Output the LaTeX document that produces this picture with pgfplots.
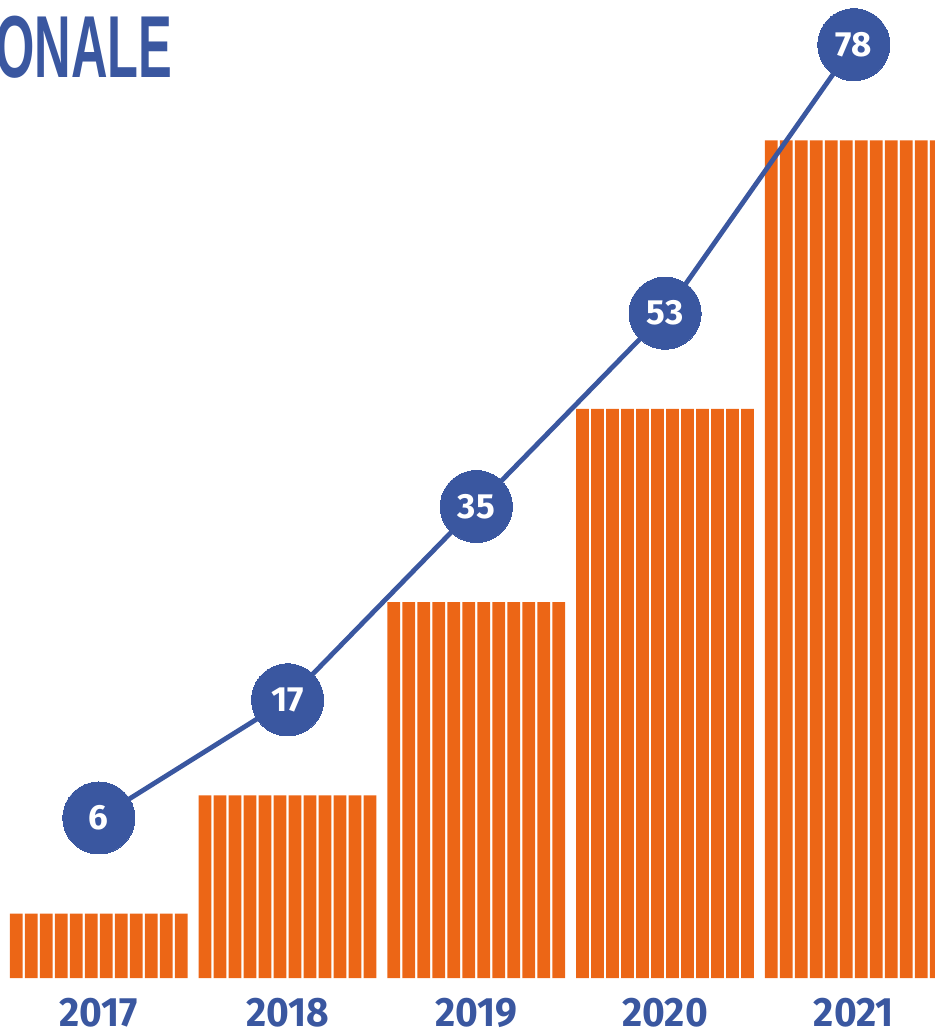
\documentclass[border=0pt]{standalone}
\usepackage{pgfplots}
\pgfplotsset{compat=1.18}
\usepackage{pgfplotstable}
\usepackage{graphicx}
\usepackage{fontspec}
\setmainfont{Fira Sans}
\newfontfamily\titlefont{Liberation Sans}
\newfontfamily\numfont{Fira Sans}
\definecolor{blueC}{RGB}{58,87,160}
\definecolor{orangeC}{RGB}{236,102,22}
\pgfplotstableread{
x v
0 6
1 17
2 35
3 53
4 78
}\data
\newcommand{\yr}[1]{\scalebox{0.95}[1]{#1}}
\begin{document}
\begin{tikzpicture}
\begin{axis}[
  scale only axis,
  width=467.5pt, height=517pt,
  xmin=-0.5237, xmax=4.4299,
  ymin=-5.214, ymax=91.06,
  clip=false,
  /pgf/number format/assume math mode=true,
  axis line style={draw=none},
  tick style={draw=none},
  ytick=\empty,
  xtick={0,1,2,3,4},
  xticklabels={\yr{2017},\yr{2018},\yr{2019},\yr{2020},\yr{2021}},
  xticklabel style={anchor=base, inner sep=0pt, yshift=3.6pt, text=blueC, font=\numfont\bfseries\fontsize{20.5}{20.5}\selectfont},
]
\pgfplotsinvokeforeach{0,...,11}{
  \addplot[ybar, bar width=6.35pt, bar shift={#1*7.5pt-41.25pt}, fill=orangeC, draw=none] table[x=x,y=v]{\data};
}
\addplot[blueC, line width=2.4pt, mark=*, mark size=18pt,
  mark options={fill=blueC, draw=blueC, line width=0pt},
  nodes near coords, point meta=explicit, nodes near coords align=center,
  every node near coord/.append style={text=white, font=\numfont\bfseries\fontsize{17.5}{17.5}\selectfont}]
  table[x=x, y expr=\thisrow{v}+8.9, meta=v]{\data};
\node[anchor=base west, inner sep=0pt, text=blueC, font=\titlefont\bfseries\fontsize{44}{44}\selectfont]
  at (rel axis cs:-0.0053,0.9246) {\scalebox{0.575}[1]{ONALE}};
\coordinate (SW) at (rel axis cs:0,0);
\coordinate (NE) at (rel axis cs:1,1);
\end{axis}
\pgfresetboundingbox
\path[use as bounding box] (SW) rectangle (NE);
\end{tikzpicture}
\end{document}
